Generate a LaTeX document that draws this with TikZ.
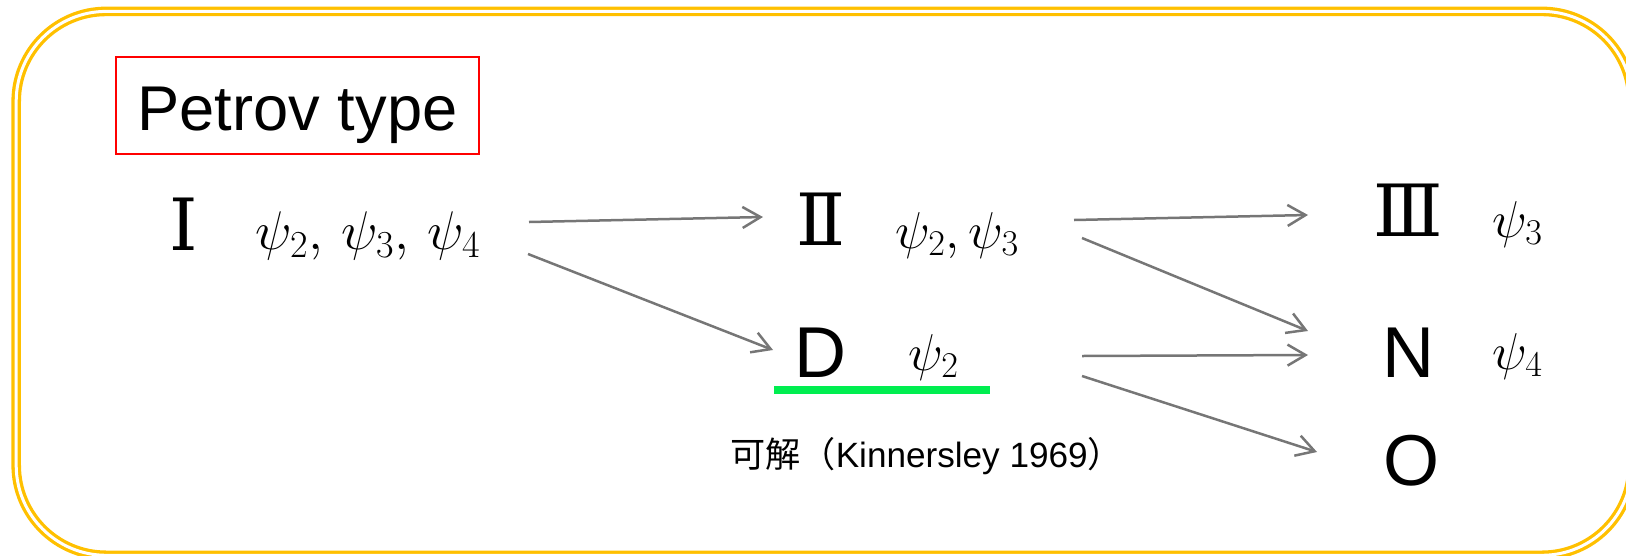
\RequirePackage{fix-cm}
\documentclass[tikz,border=0pt]{standalone}
\usepackage{fontspec}
\setmainfont{Liberation Sans}
\newfontfamily\cjk{Noto Sans CJK JP}
\newfontfamily\romanfont{DejaVu Serif}
\usetikzlibrary{arrows.meta,calc}
\definecolor{frameyellow}{RGB}{255,192,0}
\definecolor{markgreen}{RGB}{0,238,80}
\definecolor{arrowgray}{RGB}{118,118,118}
\begin{document}
\begin{tikzpicture}[x=0.02cm,y=-0.02cm,
  lbl/.style={inner sep=0pt,anchor=base west},
  numeral/.style={inner sep=0pt,anchor=base,font=\romanfont\fontsize{41}{41}\selectfont},
  letter/.style={lbl,font=\fontsize{41}{41}\selectfont},
  weyl/.style={lbl,font=\fontsize{29.5}{30}\selectfont},
  arr/.style={draw=arrowgray,line width=0.05cm,-{Straight Barb[length=0.36cm,width=0.42cm]}}]
\useasboundingbox (0,0) rectangle (1626,555);
% double frame
\draw[frameyellow,line width=0.066cm,double=white,double distance=0.06cm,rounded corners=1.8cm]
  (16.2,11.4) rectangle (1632,555.3);
\node[draw=red,line width=0.024cm,inner sep=0pt,anchor=base,minimum width=7.26cm,
  text height=1.46cm,text depth=0.48cm,font=\fontsize{36}{36}\selectfont] (title) at (297.5,130) {Petrov type};
% types and Weyl scalars
\node[numeral] (typeI) at (184,250) {Ⅰ};
\node[weyl,font=\fontsize{31}{31}\selectfont] (psiI) at (255,249) {$\psi_2,\mskip3mu\psi_3,\mskip3mu\psi_4$};
\node[numeral] (typeII) at (820.5,245) {Ⅱ};
\node[weyl] (psiII) at (895,248) {$\psi_2,\psi_3$};
\node[numeral] (typeIII) at (1408.5,236) {Ⅲ};
\node[weyl] (psiIII) at (1492,237) {$\psi_3$};
\node[letter] (typeD) at (794,377) {D};
\node[weyl] (psiD) at (908,370) {$\psi_2$};
\node[letter] (typeN) at (1382.5,377) {N};
\node[weyl] (psiN) at (1492,369) {$\psi_4$};
\node[letter] (typeO) at (1383.5,485) {O};
\draw[markgreen,line width=0.16cm] ($(typeD.base west)+(-20,13)$) -- ($(typeD.base west)+(196,13)$);
\node[lbl,font=\fontsize{20}{20}\selectfont] (solvable) at (730,467) {{\cjk 可解（}Kinnersley 1969{\cjk ）}};
% specialisations
\draw[arr] ($(psiI.base west)+(274,-27)$) -- ($(typeII.base)+(-57.5,-28)$);
\draw[arr] ($(psiI.base west)+(273,5)$) -- ($(typeD.base west)+(-21,-27)$);
\draw[arr] ($(psiII.base west)+(179,-28)$) -- ($(typeIII.base)+(-100.5,-21)$);
\draw[arr] ($(psiII.base west)+(187,-10)$) -- ($(typeN.base west)+(-74.5,-46)$);
\draw[arr] ($(psiD.base west)+(174,-14)$) -- ($(typeN.base west)+(-74.5,-22)$);
\draw[arr] ($(psiD.base west)+(174,6)$) -- ($(typeO.base west)+(-66.5,-33)$);
\end{tikzpicture}
\end{document}
